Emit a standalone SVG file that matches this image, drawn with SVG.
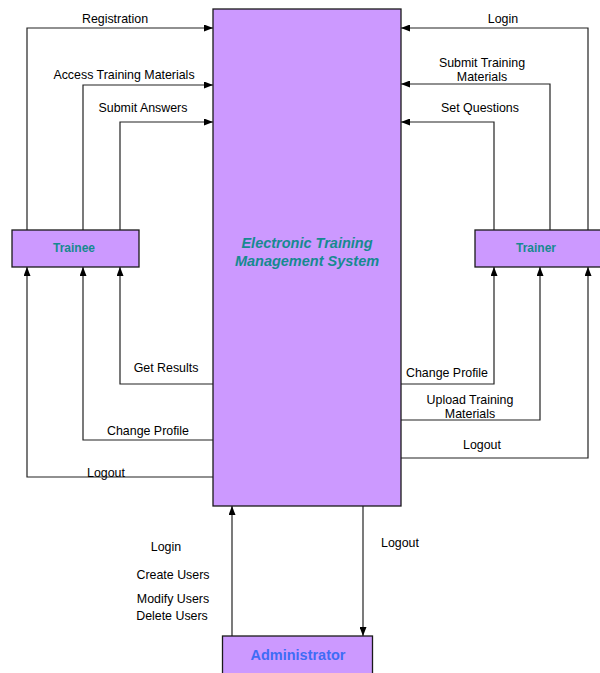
<svg xmlns="http://www.w3.org/2000/svg" width="600" height="673" viewBox="0 0 600 673">
<defs>
<marker id="ah" markerWidth="9" markerHeight="7" refX="9" refY="3.5" orient="auto" markerUnits="userSpaceOnUse">
<path d="M0,0 L9,3.5 L0,7 Z" fill="#000"/>
</marker>
<style>
.box{fill:#CC99FF;stroke:#1a1a1a;stroke-width:1.3}
.ln{fill:none;stroke:#222;stroke-width:1.2;marker-end:url(#ah)}
.lbl{font-family:"Liberation Sans",Arial,sans-serif;font-size:12.4px;fill:#000;text-anchor:middle}
.nt{font-family:"Liberation Sans",Arial,sans-serif;font-weight:bold;font-size:12px;fill:#168A90;text-anchor:middle}
</style>
</defs>
<rect width="600" height="673" fill="#fff"/>
<g id="connectors">
<polyline class="ln" points="27,230 27,28 213,28"/>
<polyline class="ln" points="83,230 83,85 213,85"/>
<polyline class="ln" points="120,230 120,122 213,122"/>
<polyline class="ln" points="213,384 120,384 120,267"/>
<polyline class="ln" points="213,440 83,440 83,267"/>
<polyline class="ln" points="213,477 27,477 27,267"/>
<polyline class="ln" points="588,230 588,28 401,28"/>
<polyline class="ln" points="550,230 550,84 401,84"/>
<polyline class="ln" points="494,230 494,122 401,122"/>
<polyline class="ln" points="401,384 494,384 494,267"/>
<polyline class="ln" points="401,420 540,420 540,267"/>
<polyline class="ln" points="401,458 588,458 588,267"/>
<polyline class="ln" points="232,636 232,506"/>
<polyline class="ln" points="363,506 363,636"/>
</g>
<g id="labels">
<text class="lbl" x="115" y="23">Registration</text>
<text class="lbl" x="124" y="79">Access Training Materials</text>
<text class="lbl" x="143" y="112">Submit Answers</text>
<text class="lbl" x="166" y="372">Get Results</text>
<text class="lbl" x="148" y="435">Change Profile</text>
<text class="lbl" x="106" y="477">Logout</text>
<text class="lbl" x="503" y="23">Login</text>
<text class="lbl" x="482" y="67">Submit Training</text>
<text class="lbl" x="482" y="81">Materials</text>
<text class="lbl" x="480" y="112">Set Questions</text>
<text class="lbl" x="447" y="377">Change Profile</text>
<text class="lbl" x="470" y="404">Upload Training</text>
<text class="lbl" x="470" y="418">Materials</text>
<text class="lbl" x="482" y="449">Logout</text>
<text class="lbl" x="166" y="551">Login</text>
<text class="lbl" x="173" y="579">Create Users</text>
<text class="lbl" x="173" y="603">Modify Users</text>
<text class="lbl" x="172" y="620">Delete Users</text>
<text class="lbl" x="400" y="547">Logout</text>
</g>
<g id="etms">
<rect class="box" x="213" y="9" width="188" height="497"/>
<text class="nt" style="font-size:14.5px;font-style:italic" x="307" y="248">Electronic Training</text>
<text class="nt" style="font-size:14.5px;font-style:italic" x="307" y="266">Management System</text>
</g>
<g id="trainee">
<rect class="box" x="12" y="230" width="127" height="37"/>
<text class="nt" x="74" y="252">Trainee</text>
</g>
<g id="trainer">
<rect class="box" x="475" y="230" width="130" height="37"/>
<text class="nt" x="536" y="252">Trainer</text>
</g>
<g id="administrator">
<rect class="box" x="222.5" y="636" width="150" height="45"/>
<text class="nt" style="font-size:14.5px;fill:#3F6CF5" x="298" y="660">Administrator</text>
</g>
</svg>
